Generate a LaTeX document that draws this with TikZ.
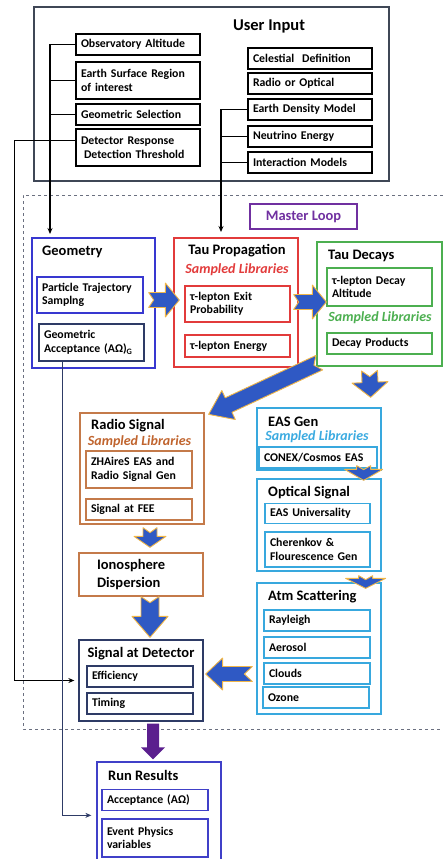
\documentclass[tikz,border=0pt]{standalone}
\usepackage{fontspec}
\setmainfont{Carlito}
\usetikzlibrary{calc,arrows.meta}

\definecolor{uiframe}{HTML}{3F4756}
\definecolor{loopgray}{HTML}{6B7080}
\definecolor{mpurple}{HTML}{7030A0}
\definecolor{geoblue}{HTML}{3838D0}
\definecolor{navy}{HTML}{2E3B66}
\definecolor{taured}{HTML}{E23B3B}
\definecolor{decgreen}{HTML}{4CAF50}
\definecolor{radbrown}{HTML}{C47A4A}
\definecolor{radtext}{HTML}{C0642E}
\definecolor{lblue}{HTML}{38A8DE}
\definecolor{lbtext}{HTML}{3AAAE0}
\definecolor{runblue}{HTML}{4040C8}
\definecolor{arrblue}{HTML}{2F59C4}
\definecolor{arrgold}{HTML}{F0B648}
\definecolor{runpurple}{HTML}{5B1F8E}

% fat notched arrow: [style]{from}{to}{shaft half width}{head half width}{head length}{notch}
\newcommand{\fatarrow}[7][bigarrow]{%
  \coordinate (fa-a) at (#2);
  \coordinate (fa-b) at (#3);
  \coordinate (fa-h) at ($(fa-b)!#6!(fa-a)$);
  \path[#1] ($(fa-a)!#4!90:(fa-b)$) -- ($(fa-h)!#4!90:(fa-b)$) -- ($(fa-h)!#5!90:(fa-b)$)
    -- (fa-b) -- ($(fa-h)!#5!-90:(fa-b)$) -- ($(fa-h)!#4!-90:(fa-b)$) -- ($(fa-a)!#4!-90:(fa-b)$)
    -- ($(fa-a)!#7!(fa-b)$) -- cycle;
}

\tikzset{
  base/.style={font=\fontsize{11.8}{13.5}\selectfont\bfseries, align=left, inner xsep=5pt, inner ysep=3pt, line width=1.1pt},
  lbox/.style={base, draw, text width=114pt, minimum height=21pt},
  ibox/.style={base, draw, text width=96pt, minimum height=21pt},
  block/.style={draw, line width=1.3pt, minimum width=124pt, inner sep=0pt},
  title/.style={font=\fontsize{14.5}{16}\selectfont\bfseries, inner sep=0pt},
  bigtitle/.style={font=\fontsize{16.5}{18}\selectfont\bfseries, inner sep=0pt},
  libs/.style={font=\fontsize{14}{16}\selectfont\bfseries\itshape, inner sep=0pt},
  conn/.style={line width=1.3pt},
  tip/.style={-{Stealth[length=6pt, width=5pt]}},
  bigarrow/.style={fill=arrblue, draw=arrgold, line width=0.9pt, line join=round},
  purplearrow/.style={fill=runpurple}
}

\begin{document}
\begin{tikzpicture}[x=1pt, y=-1pt]
\useasboundingbox (0,0) rectangle (443,859);
\clip (0,0) rectangle (443,859);

% user input
\node[block, draw=uiframe, minimum width=355pt, minimum height=174pt] (ui) at (211.5,94) {};
\node[bigtitle] (uiT) at (269,26) {User Input};
\node[lbox] (obsalt) at (138,44.5) {Observatory Altitude};
\node[lbox, minimum height=37pt] (surf) at (138,80.5) {Earth Surface Region\\of interest};
\node[lbox] (geosel) at (138,114.5) {Geometric Selection};
\node[lbox, minimum height=37pt] (detresp) at (138,147.5) {Detector Response\\\hspace{3pt}Detection Threshold};
\node[lbox] (celest) at (310,58.5) {Celestial\ \ Definition};
\node[lbox] (radopt) at (310,83.5) {Radio or Optical};
\node[lbox] (edens) at (310,109.5) {Earth Density Model};
\node[lbox] (nuen) at (310,136.5) {Neutrino Energy};
\node[lbox] (intmod) at (310,162.5) {Interaction Models};

% master loop
\draw[loopgray, dashed, line width=1pt] (443,195) -- (23,195) -- (23,729) -- (443,729);
\node[title, draw=mpurple, text=mpurple, line width=1.1pt, minimum width=107pt, minimum height=25pt] (mloop) at (303.5,216.5) {Master Loop};

% geometry
\node[block, draw=geoblue, minimum width=123pt, minimum height=130pt] (geom) at (93.5,303) {};
\node[title, anchor=west] (geomT) at (42,252) {Geometry};
\node[ibox, draw=geoblue, minimum height=36pt] (ptraj) at (90,295) {Particle Trajectory\\Samplng};
\node[ibox, draw=navy, text width=95pt, minimum height=37pt] (geoacc) at (91.5,342.5) {Geometric\\Acceptance (AΩ)\textsubscript{G}};

% tau propagation
\node[block, draw=taured, minimum height=129pt] (taup) at (236,302.5) {};
\node[title] (taupT) at (237,251) {Tau Propagation};
\node[libs, text=taured] (taupL) at (237,270) {Sampled Libraries};
\node[ibox, draw=taured, text width=95pt, minimum height=36pt] (exitp) at (237.5,304) {τ-lepton Exit\\Probability};
\node[ibox, draw=taured, text width=95pt, minimum height=22pt] (tauen) at (237.5,346) {τ-lepton Energy};

% tau decays
\node[block, draw=decgreen, minimum width=125pt, minimum height=124pt] (taudec) at (379.5,304) {};
\node[title, anchor=west] (taudecT) at (328,256) {Tau Decays};
\node[ibox, draw=decgreen, text width=95pt, minimum height=38pt] (decalt) at (379.5,287) {τ-lepton Decay\\Altitude};
\node[libs, text=decgreen] (taudecL) at (380,318) {Sampled Libraries};
\node[ibox, draw=decgreen, text width=95pt] (decprod) at (379.5,343.5) {Decay Products};

% radio branch
\node[block, draw=radbrown, minimum height=111pt] (radio) at (142,468.5) {};
\node[title, anchor=west] (radioT) at (91,426) {Radio Signal};
\node[libs, text=radtext] (radioL) at (139.5,442) {Sampled Libraries};
\node[ibox, draw=radbrown, minimum height=37pt] (zha) at (139,469.5) {ZHAireS EAS and\\Radio Signal Gen};
\node[ibox, draw=radbrown] (fee) at (139,509.5) {Signal at FEE};
\node[block, draw=radbrown, align=left, font=\fontsize{14.5}{18}\selectfont\bfseries, text width=88pt, inner xsep=18pt, minimum height=43pt] (iono) at (141,574.5) {Ionosphere\\Dispersion};

% detector
\node[block, draw=navy, minimum height=81pt] (sigdet) at (141,680.5) {};
\node[title] (sigdetT) at (141,654) {Signal at Detector};
\node[ibox, draw=navy] (eff) at (140,676.5) {Efficiency};
\node[ibox, draw=navy] (timing) at (140,703.5) {Timing};

% optical branch
\node[block, draw=lblue, minimum height=62pt] (easgen) at (319,439) {};
\node[title, anchor=west] (easgenT) at (268,422) {EAS Gen};
\node[libs, text=lbtext] (easgenL) at (317,437) {Sampled Libraries};
\node[ibox, draw=lblue, text width=108pt] (conex) at (318,457.5) {CONEX/Cosmos EAS};
\node[block, draw=lblue, minimum height=92pt] (optic) at (319,525) {};
\node[title, anchor=west] (opticT) at (268,493) {Optical Signal};
\node[ibox, draw=lblue, text width=95pt, minimum height=20pt] (easuni) at (317.5,513.5) {EAS Universality};
\node[ibox, draw=lblue, text width=95pt, minimum height=35pt] (cher) at (317.5,549.5) {Cherenkov \&\\Flourescence Gen};
\node[block, draw=lblue, minimum height=131pt] (atm) at (319,648.5) {};
\node[title, anchor=west] (atmT) at (268,597) {Atm Scattering};
\node[ibox, draw=lblue] (rayl) at (317,620.5) {Rayleigh};
\node[ibox, draw=lblue] (aeros) at (317,647.5) {Aerosol};
\node[ibox, draw=lblue] (clouds) at (317,673.5) {Clouds};
\node[ibox, draw=lblue] (ozone) at (316,697.5) {Ozone};

% run results
\node[block, draw=runblue, minimum height=106pt] (runres) at (159,815) {};
\node[title, anchor=west] (runresT) at (108,775) {Run Results};
\node[ibox, draw=runblue] (accept) at (155,800) {Acceptance (AΩ)};
\node[ibox, draw=runblue, minimum height=38pt] (evphys) at (155,838) {Event Physics\\variables};

% input lines
\coordinate (geoin) at (50,234);
\coordinate (tauin) at (221,232);
\draw[conn, tip] (obsalt.west) -| (geoin);
\draw[conn] (surf.west) -- (surf.west -| geoin);
\draw[conn] (geosel.west) -- (geosel.west -| geoin);
\draw[conn, tip] ($(detresp.west)+(0,-7)$) -- ++(-61,0) |- ($(sigdet.west)+(-4,0)$);
\draw[conn, tip] (edens.west) -| (tauin);
\draw[conn] (nuen.west) -- (nuen.west -| tauin);
\draw[conn] (intmod.west) -- (intmod.west -| tauin);
\draw[conn, navy, tip] ($(geoacc.south west)+(24,0)$) |- ($(runres.north west)+(-5,54)$);

% big arrows
\fatarrow{$(geom.east)+(-7,-3)$}{$(taup.west)+(6,-2.5)$}{7.5pt}{17pt}{14pt}{5pt}
\fatarrow{$(taup.east)+(-5,-0.5)$}{$(taudec.west)+(10,-2)$}{7.5pt}{17pt}{14pt}{5pt}
\fatarrow{$(taudec.south west)+(3,-4)$}{$(radio.north east)+(4,2)$}{8pt}{16pt}{22pt}{6pt}
\fatarrow{$(taudec.south)+(-10,4)$}{$(easgen.north east)+(-11,-10)$}{8pt}{18pt}{15pt}{6pt}
\fatarrow{$(easgen.south east)+(-18,-5)$}{$(optic.north east)+(-18,2)$}{7pt}{19pt}{11pt}{4pt}
\fatarrow{$(optic.south east)+(-16,4)$}{$(atm.north east)+(-16,6)$}{7pt}{20pt}{10pt}{4pt}
\fatarrow{$(radio.south)+(8,3)$}{$(iono.north)+(9,-5)$}{7pt}{16pt}{11pt}{5pt}
\fatarrow{$(iono.south)+(9,0)$}{$(sigdet.north)+(9,-2)$}{9pt}{18pt}{21pt}{6pt}
\fatarrow{$(atm.west)+(-4,25.5)$}{$(sigdet.east)+(2,-6.5)$}{7.5pt}{16pt}{17pt}{8pt}
\fatarrow[purplearrow]{$(sigdet.south)+(12,2)$}{$(runres.north)+(-6,-2)$}{6pt}{12pt}{12pt}{0pt}
\end{tikzpicture}
\end{document}
